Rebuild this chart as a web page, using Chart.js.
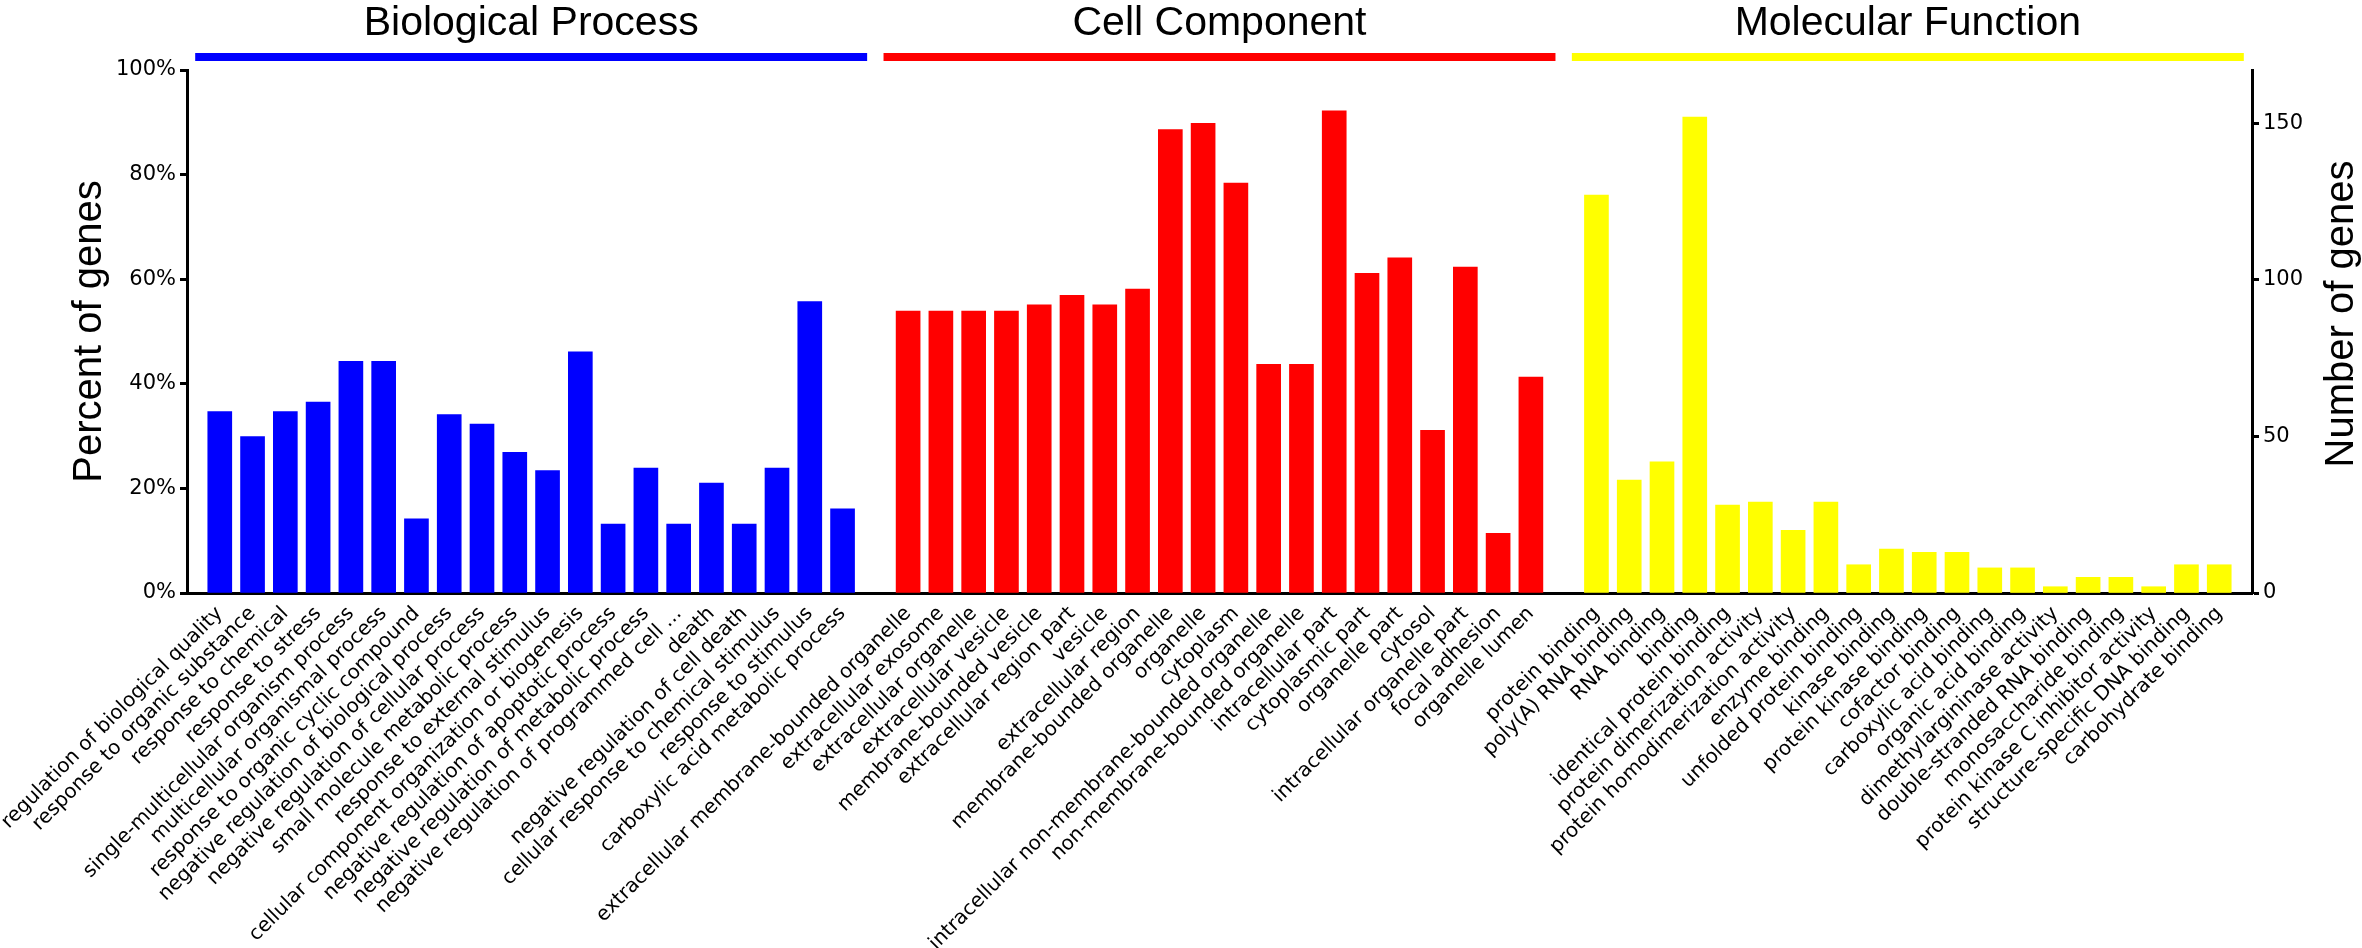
<!DOCTYPE html>
<html lang="en">
<head>
<meta charset="UTF-8">
<title>GO classification of genes</title>
<script src="https://cdn.jsdelivr.net/npm/chart.js"></script>
<style>
  html, body { margin: 0; padding: 0; background: #fff; }
  #wrap { width: 2362px; height: 948px; }
</style>
</head>
<body>
<div id="wrap"><canvas id="goChart"></canvas></div>
<script>
// Biological Process
const bpLabels = [
  'regulation of biological quality', 'response to organic substance', 'response to chemical',
  'response to stress', 'single-multicellular organism process', 'multicellular organismal process',
  'response to organic cyclic compound', 'negative regulation of biological process',
  'negative regulation of cellular process', 'small molecule metabolic process',
  'response to external stimulus', 'cellular component organization or biogenesis',
  'negative regulation of apoptotic process', 'negative regulation of metabolic process',
  'negative regulation of programmed cell ...', 'death', 'negative regulation of cell death',
  'cellular response to chemical stimulus', 'response to stimulus', 'carboxylic acid metabolic process'
];
const bpValues = [34.7, 29.9, 34.7, 36.5, 44.3, 44.3, 14.2, 34.1, 32.3, 26.9,
                  23.4, 46.1, 13.2, 23.9, 13.2, 21.0, 13.2, 23.9, 55.7, 16.1];

// Cell Component
const ccLabels = [
  'extracellular membrane-bounded organelle', 'extracellular exosome', 'extracellular organelle',
  'extracellular vesicle', 'membrane-bounded vesicle', 'extracellular region part', 'vesicle',
  'extracellular region', 'membrane-bounded organelle', 'organelle', 'cytoplasm',
  'intracellular non-membrane-bounded organelle', 'non-membrane-bounded organelle',
  'intracellular part', 'cytoplasmic part', 'organelle part', 'cytosol',
  'intracellular organelle part', 'focal adhesion', 'organelle lumen'
];
const ccValues = [53.9, 53.9, 53.9, 53.9, 55.1, 56.9, 55.1, 58.1, 88.6, 89.8,
                  78.4, 43.7, 43.7, 92.2, 61.1, 64.1, 31.1, 62.3, 11.4, 41.3];

// Molecular Function
const mfLabels = [
  'protein binding', 'poly(A) RNA binding', 'RNA binding', 'binding', 'identical protein binding',
  'protein dimerization activity', 'protein homodimerization activity', 'enzyme binding',
  'unfolded protein binding', 'kinase binding', 'protein kinase binding', 'cofactor binding',
  'carboxylic acid binding', 'organic acid binding', 'dimethylargininase activity',
  'double-stranded RNA binding', 'monosaccharide binding', 'protein kinase C inhibitor activity',
  'structure-specific DNA binding', 'carbohydrate binding'
];
const mfValues = [76.1, 21.6, 25.1, 91.0, 16.8, 17.4, 12.0, 17.4, 5.4, 8.4,
                  7.8, 7.8, 4.8, 4.8, 1.2, 3.0, 3.0, 1.2, 5.4, 5.4];

const groupNames = ['Biological Process', 'Cell Component', 'Molecular Function'];
const groupColors = ['#0000ff', '#ff0000', '#ffff00'];
const percentTicks = [0, 20, 40, 60, 80, 100];
const geneAxisMax = 167;   // number of genes that equals 100%

// one empty slot at each end and between the groups
const allLabels = ['', ...bpLabels, '', ...ccLabels, '', ...mfLabels, ''];
const groups = [bpValues, ccValues, mfValues];
let start = 1;
const groupRanges = groups.map(vals => {
  const r = { first: start, last: start + vals.length - 1 };
  start += vals.length + 1;
  return r;
});

const datasets = groups.map((vals, g) => {
  const data = allLabels.map(() => null);
  vals.forEach((v, i) => { data[groupRanges[g].first + i] = v; });
  return {
    label: groupNames[g],
    data: data,
    backgroundColor: groupColors[g],
    borderWidth: 0,
    barThickness: 24,
    grouped: false
  };
});

// group header bars + titles, and the right axis title (reads bottom to top)
const headerPlugin = {
  id: 'groupHeaders',
  afterDraw(chart) {
    const { ctx } = chart;
    const x = chart.scales.x;
    const step = x.getPixelForValue(1) - x.getPixelForValue(0);
    ctx.save();
    groupRanges.forEach((r, g) => {
      const x0 = x.getPixelForValue(r.first) - 0.75 * step;
      const x1 = x.getPixelForValue(r.last) + 0.75 * step;
      ctx.fillStyle = groupColors[g];
      ctx.fillRect(x0, 53, x1 - x0, 8);
      ctx.fillStyle = '#000';
      ctx.font = '41px "Liberation Sans", Arial, sans-serif';
      ctx.textAlign = 'center';
      ctx.textBaseline = 'alphabetic';
      ctx.fillText(groupNames[g], (x0 + x1) / 2, 35);
    });
    const y2 = chart.scales.y2;
    ctx.translate(y2.right - 20, 314);
    ctx.rotate(-Math.PI / 2);
    ctx.font = '40px "Liberation Sans", Arial, sans-serif';
    ctx.textAlign = 'center';
    ctx.textBaseline = 'middle';
    ctx.fillStyle = '#000';
    ctx.fillText('Number of genes', 0, 0);
    ctx.restore();
  }
};

const tickFont = { family: '"DejaVu Sans", sans-serif', size: 21 };

new Chart(document.getElementById('goChart'), {
  type: 'bar',
  data: { labels: allLabels, datasets: datasets },
  options: {
    responsive: true,
    maintainAspectRatio: false,
    animation: false,
    layout: { padding: { top: 70, left: 0, right: 0, bottom: 0 } },
    plugins: {
      legend: { display: false },
      tooltip: { enabled: true }
    },
    scales: {
      x: {
        offset: false,
        grid: { display: false },
        border: { display: true, color: '#000', width: 3 },
        ticks: {
          autoSkip: false,
          maxRotation: 45,
          minRotation: 45,
          padding: 1,
          labelOffset: 0,
          color: '#000',
          font: { family: '"DejaVu Sans", sans-serif', size: 20 }
        },
        afterFit(scale) {
          scale.height = 355;
          scale.paddingLeft = 0;
          scale.paddingRight = 0;
        }
      },
      y: {
        position: 'left',
        min: 0,
        max: 100,
        afterBuildTicks(scale) {
          scale.ticks = percentTicks.map(v => ({ value: v }));
        },
        grid: { display: true, drawOnChartArea: false, drawTicks: true,
                tickLength: 7, tickWidth: 3, tickColor: '#000' },
        border: { display: true, color: '#000', width: 3 },
        ticks: {
          padding: 4,
          color: '#000',
          font: tickFont,
          callback: v => v + '%'
        },
        title: {
          display: true,
          text: 'Percent of genes',
          color: '#000',
          font: { family: '"Liberation Sans", Arial, sans-serif', size: 40 },
          padding: { top: 66, bottom: 0 }
        },
        afterFit(scale) { scale.width = 187; }
      },
      y2: {
        position: 'right',
        display: true,
        min: 0,
        max: geneAxisMax,
        grid: { display: true, drawOnChartArea: false, drawTicks: true,
                tickLength: 7, tickWidth: 3, tickColor: '#000' },
        border: { display: true, color: '#000', width: 3 },
        ticks: {
          stepSize: 50,
          includeBounds: false,
          padding: 4,
          color: '#000',
          font: tickFont
        },
        afterFit(scale) { scale.width = 110; }
      }
    }
  },
  plugins: [headerPlugin]
});
</script>
</body>
</html>
